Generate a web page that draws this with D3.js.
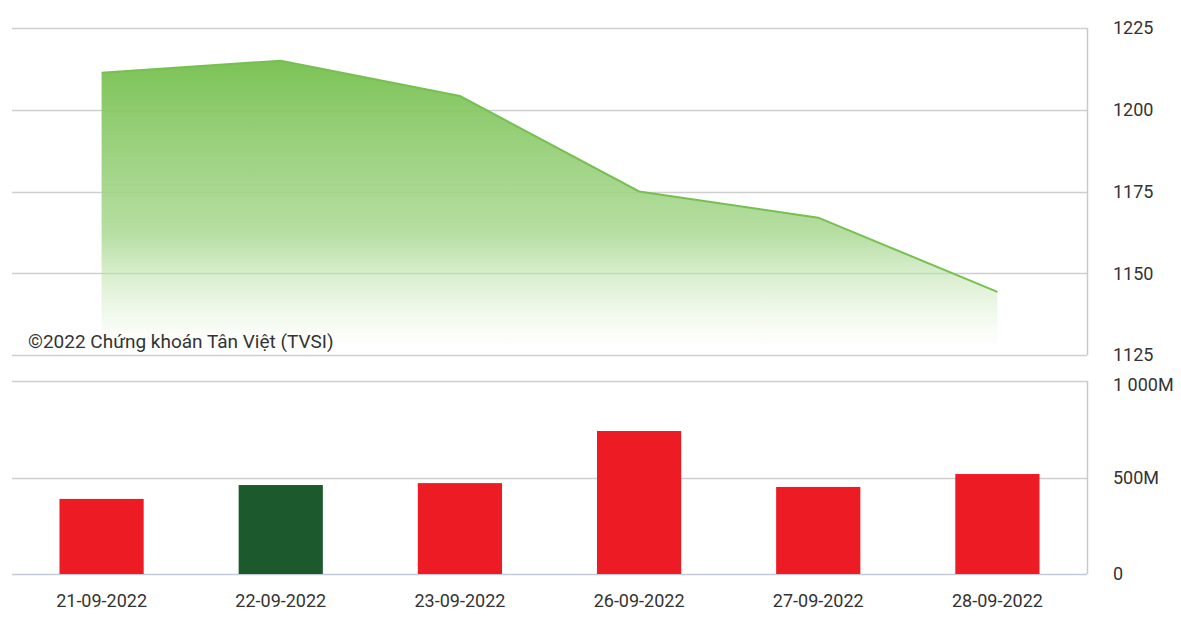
<!DOCTYPE html>
<html>
<head>
<meta charset="utf-8">
<script src="https://cdn.jsdelivr.net/npm/d3@7"></script>
<style>
html,body{margin:0;padding:0;background:#fff;}
svg{display:block;font-family:Roboto, "Noto Sans", sans-serif;}
</style>
</head>
<body>
<svg id="chart" width="1181" height="626"></svg>
<script>
const dates = ["21-09-2022","22-09-2022","23-09-2022","26-09-2022","27-09-2022","28-09-2022"];
const indexValues = [1211.3, 1215.0, 1204.2, 1175.0, 1167.0, 1144.3];
const volumeValues = [389, 461, 471, 741, 451, 518]; // millions
const volumeUp = [false, true, false, false, false, false];
const priceTicks = [1125, 1150, 1175, 1200, 1225];
const volumeTicks = [0, 500, 1000];
const volumeTickLabels = ["0", "500M", "1 000M"];
const copyright = "©2022 Chứng khoán Tân Việt (TVSI)";

const svg = d3.select("#chart");
const left = 12, right = 1087;

const x = d3.scaleBand().domain(dates).range([left, right]).paddingInner(0.53).paddingOuter(0.265);
const cx = d => x(d) + x.bandwidth() / 2;

const yP = d3.scaleLinear().domain([1125, 1225]).range([355, 28]);
const yV = d3.scaleLinear().domain([0, 1000]).range([574, 381]);

// gridlines
const gridColor = "#cfcfcf";
svg.append("g").selectAll("line").data(priceTicks).join("line")
  .attr("x1", left).attr("x2", right)
  .attr("y1", d => Math.round(yP(d)) + 0.5).attr("y2", d => Math.round(yP(d)) + 0.5)
  .attr("stroke", gridColor).attr("stroke-width", 1.5);
svg.append("g").selectAll("line").data(volumeTicks).join("line")
  .attr("x1", left).attr("x2", right)
  .attr("y1", d => Math.round(yV(d)) + 0.5).attr("y2", d => Math.round(yV(d)) + 0.5)
  .attr("stroke", d => d === 0 ? "#c3c9d6" : gridColor).attr("stroke-width", 1.5);

// gradient
const defs = svg.append("defs");
const grad = defs.append("linearGradient").attr("id", "areaGrad")
  .attr("gradientUnits", "userSpaceOnUse")
  .attr("x1", 0).attr("x2", 0).attr("y1", yP(1215)).attr("y2", 348);
grad.append("stop").attr("offset", 0).attr("stop-color", "#7cc356").attr("stop-opacity", 1);
grad.append("stop").attr("offset", 0.6).attr("stop-color", "#a9d891").attr("stop-opacity", 0.85);
grad.append("stop").attr("offset", 1).attr("stop-color", "#d2ebc4").attr("stop-opacity", 0.0);

const pts = dates.map((d, i) => ({d, v: indexValues[i]}));
const area = d3.area().x(p => cx(p.d)).y0(yP(1125)).y1(p => yP(p.v));
svg.append("path").datum(pts).attr("d", area).attr("fill", "url(#areaGrad)");
const line = d3.line().x(p => cx(p.d)).y(p => yP(p.v));
svg.append("path").datum(pts).attr("d", line).attr("fill", "none")
  .attr("stroke", "#76c04f").attr("stroke-width", 2);

// bars
svg.append("g").selectAll("rect").data(dates).join("rect")
  .attr("x", d => x(d)).attr("width", x.bandwidth())
  .attr("y", (d, i) => yV(volumeValues[i]))
  .attr("height", (d, i) => yV(0) - yV(volumeValues[i]))
  .attr("fill", (d, i) => volumeUp[i] ? "#1c5a2d" : "#ed1c24");

// right axis lines
svg.append("line").attr("x1", right + 0.5).attr("x2", right + 0.5)
  .attr("y1", yP(1225)).attr("y2", yP(1125)).attr("stroke", "#c3c9d6").attr("stroke-width", 1.5);
svg.append("line").attr("x1", right + 0.5).attr("x2", right + 0.5)
  .attr("y1", yV(1000)).attr("y2", yV(0)).attr("stroke", "#c3c9d6").attr("stroke-width", 1.5);

// axes labels
const axP = d3.axisRight(yP).tickValues(priceTicks).tickFormat(d3.format("d")).tickSize(0).tickPadding(26);
const gP = svg.append("g").attr("transform", `translate(${right},0)`).call(axP);
gP.select(".domain").remove();
gP.selectAll("text").attr("font-size", 18).attr("fill", "#333").attr("font-family", "Roboto");

const axV = d3.axisRight(yV).tickValues(volumeTicks).tickFormat((d, i) => volumeTickLabels[i]).tickSize(0).tickPadding(26);
const gV = svg.append("g").attr("transform", `translate(${right},0)`).call(axV);
gV.select(".domain").remove();
gV.selectAll("text").attr("font-size", 18).attr("fill", "#333").attr("font-family", "Roboto");
gV.selectAll("text").attr("dy", (d) => d === 1000 ? "0.5em" : "0.32em");

// x axis
const axX = d3.axisBottom(x).tickSize(0).tickPadding(20);
const gX = svg.append("g").attr("transform", `translate(0,${yV(0)})`).call(axX);
gX.select(".domain").remove();
gX.selectAll("text").attr("font-size", 18).attr("fill", "#333").attr("font-family", "Roboto");

// copyright
svg.append("text").attr("x", 28).attr("y", 348).attr("font-size", 19)
  .attr("fill", "#333").text(copyright);
</script>
</body>
</html>
